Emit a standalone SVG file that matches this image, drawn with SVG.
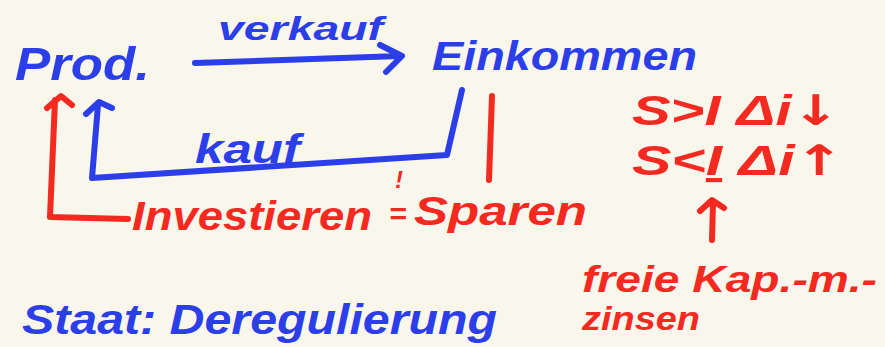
<svg xmlns="http://www.w3.org/2000/svg" width="885" height="347" viewBox="0 0 885 347">
<style>
.b{fill:#2b3ee8}
.r{fill:#f4291f}
text{font-family:"Liberation Sans","DejaVu Sans",sans-serif;font-style:italic;font-weight:bold}
.ar{font-family:"DejaVu Sans",sans-serif;font-style:normal;font-weight:bold}
.lb{fill:none;stroke:#2b3ee8;stroke-width:6;stroke-linecap:round;stroke-linejoin:round}
.lr{fill:none;stroke:#f4291f;stroke-width:6;stroke-linecap:round;stroke-linejoin:round}
</style>
<rect width="885" height="347" fill="#f9f6ec"/>
<g id="connectors">
<path class="lb" d="M195,63 L400,56 M380,45 L402,56 L386,72"/>
<path class="lb" d="M462,90 L447,155 L92,178 L98,105 M86,114 L99,102 L112,108"/>
<path class="lr" d="M492,96 L489,180"/>
<path class="lr" d="M128,219 L50,217 L55,100 M47,108 L61,96 L72,105"/>
<path class="lr" d="M712,240 L713,203 M700,211 L712,200 L724,208"/>
</g>
<g id="prod"><text class="b" x="15" y="80" font-size="46" textLength="135" lengthAdjust="spacingAndGlyphs">Prod.</text></g>
<g id="verkauf"><text class="b" x="218" y="40" font-size="34" textLength="165" lengthAdjust="spacingAndGlyphs">verkauf</text></g>
<g id="einkommen"><text class="b" x="432" y="70" font-size="40" textLength="265" lengthAdjust="spacingAndGlyphs">Einkommen</text></g>
<g id="kauf"><text class="b" x="195" y="163" font-size="40" textLength="105" lengthAdjust="spacingAndGlyphs">kauf</text></g>
<g id="investieren"><text class="r" x="132" y="230" font-size="40" textLength="240" lengthAdjust="spacingAndGlyphs">Investieren</text></g>
<g id="gleich"><text class="r" x="395" y="188" font-size="24">!</text><text class="r" x="389" y="224" font-size="30">=</text></g>
<g id="sparen"><text class="r" x="414" y="225" font-size="40" textLength="173" lengthAdjust="spacingAndGlyphs">Sparen</text></g>
<g id="s-gt-i"><text class="r" x="632" y="125" font-size="42" textLength="208" lengthAdjust="spacingAndGlyphs">S&gt;I Δi<tspan class="ar">↓</tspan></text></g>
<g id="s-lt-i"><text class="r" x="632" y="175" font-size="42" textLength="212" lengthAdjust="spacingAndGlyphs">S&lt;<tspan text-decoration="underline">I</tspan> Δi<tspan class="ar">↑</tspan></text></g>
<g id="zinsen"><text class="r" x="582" y="292" font-size="36" textLength="295" lengthAdjust="spacingAndGlyphs">freie Kap.-m.-</text><text class="r" x="582" y="330" font-size="34" textLength="118" lengthAdjust="spacingAndGlyphs">zinsen</text></g>
<g id="staat"><text class="b" x="22" y="334" font-size="42" textLength="475" lengthAdjust="spacingAndGlyphs">Staat: Deregulierung</text></g>
</svg>
